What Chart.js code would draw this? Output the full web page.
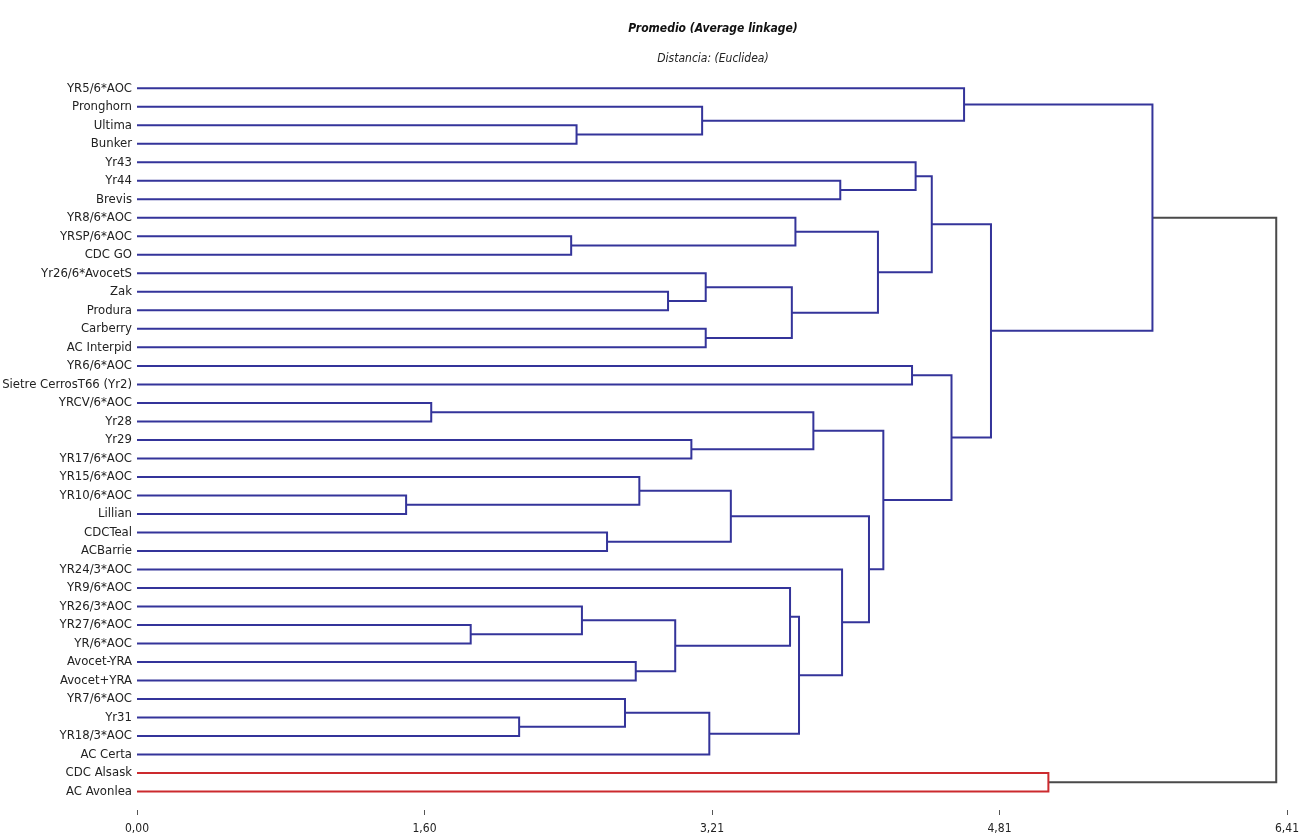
<!DOCTYPE html>
<html>
<head>
<meta charset="utf-8">
<script src="https://cdn.jsdelivr.net/npm/chart.js@4/dist/chart.umd.min.js"></script>
<style>
  html, body { margin: 0; padding: 0; background: #ffffff; }
  #wrap { width: 1299px; height: 837px; }
</style>
</head>
<body>
<div id="wrap"><canvas id="c" width="1299" height="837"></canvas></div>
<script>
// ---- Data ----
const chartTitle = 'Promedio (Average linkage)';
const chartSubtitle = 'Distancia: (Euclidea)';

const leaves = [
  'YR5/6*AOC', 'Pronghorn', 'Ultima', 'Bunker', 'Yr43', 'Yr44', 'Brevis',
  'YR8/6*AOC', 'YRSP/6*AOC', 'CDC GO', 'Yr26/6*AvocetS', 'Zak', 'Produra',
  'Carberry', 'AC Interpid', 'YR6/6*AOC', 'Sietre CerrosT66 (Yr2)',
  'YRCV/6*AOC', 'Yr28', 'Yr29', 'YR17/6*AOC', 'YR15/6*AOC', 'YR10/6*AOC',
  'Lillian', 'CDCTeal', 'ACBarrie', 'YR24/3*AOC', 'YR9/6*AOC', 'YR26/3*AOC',
  'YR27/6*AOC', 'YR/6*AOC', 'Avocet-YRA', 'Avocet+YRA', 'YR7/6*AOC', 'Yr31',
  'YR18/3*AOC', 'AC Certa', 'CDC Alsask', 'AC Avonlea'
];

// Merge k creates cluster id leaves.length + k (ids < leaves.length are leaves)
const mergeLeft  = [2, 1, 0, 5, 4, 8, 7, 11, 10, 13, 47, 45, 43, 15, 17, 19, 53, 22, 21, 24, 57, 29, 28, 31, 61, 27, 34, 33, 66, 64, 26, 59, 55, 52, 51, 41, 37, 74];
const mergeRight = [3, 39, 40, 6, 42, 9, 44, 12, 46, 14, 48, 49, 50, 16, 18, 20, 54, 23, 56, 25, 58, 30, 60, 32, 62, 63, 35, 65, 36, 67, 68, 69, 70, 71, 72, 73, 38, 75];
const mergeHeight = [2.45, 3.15, 4.61, 3.92, 4.34, 2.42, 3.67, 2.96, 3.17, 3.17, 3.65, 4.13, 4.43, 4.32, 1.64, 3.09, 3.77, 1.50, 2.80, 2.62, 3.31, 1.86, 2.48, 2.78, 3.00, 3.64, 2.13, 2.72, 3.19, 3.69, 3.93, 4.08, 4.16, 4.54, 4.76, 5.66, 5.08, 6.35];

const xMax = 6.41;
const xTickValues = [0, 1.6025, 3.205, 4.8075, 6.41];
const xTickLabels = ['0,00', '1,60', '3,21', '4,81', '6,41'];

// ---- Build dendrogram segments ----
const n = leaves.length;
const pos = [], hgt = [], members = [];
for (let i = 0; i < n; i++) { pos[i] = i; hgt[i] = 0; members[i] = [i]; }
const BLUE = '#34349a', RED = '#cc2a2e', GRAY = '#4a4a4a';
const datasets = [];
for (let k = 0; k < mergeHeight.length; k++) {
  const l = mergeLeft[k], r = mergeRight[k], h = mergeHeight[k], id = n + k;
  pos[id] = (pos[l] + pos[r]) / 2;
  hgt[id] = h;
  members[id] = members[l].concat(members[r]);
  let color = BLUE;
  if (k === mergeHeight.length - 1) color = GRAY;
  else if (members[id].every(m => m >= 37)) color = RED;
  datasets.push({
    data: [
      { x: hgt[l], y: pos[l] },
      { x: h, y: pos[l] },
      { x: h, y: pos[r] },
      { x: hgt[r], y: pos[r] }
    ],
    borderColor: color,
    borderWidth: 2,
    pointRadius: 0,
    pointHoverRadius: 0,
    tension: 0,
    fill: false,
    clip: false
  });
}

const FONT = "'DejaVu Sans Condensed', 'Liberation Sans', Arial, sans-serif";

const titlePlugin = {
  id: 'titles',
  afterDraw(chart) {
    const ctx = chart.ctx;
    ctx.save();
    ctx.fillStyle = '#111';
    ctx.textAlign = 'center';
    ctx.textBaseline = 'middle';
    ctx.font = "italic bold 12px " + FONT;
    ctx.fillText(chartTitle, 713, 29);
    ctx.font = "italic 12px " + FONT;
    ctx.fillStyle = '#222';
    ctx.fillText(chartSubtitle, 713, 59);
    ctx.restore();
  }
};

new Chart(document.getElementById('c'), {
  type: 'line',
  data: { datasets },
  options: {
    responsive: false,
    devicePixelRatio: 1,
    animation: false,
    layout: { padding: { top: 79.05, right: 12, bottom: 0, left: 0 } },
    plugins: { legend: { display: false }, tooltip: { enabled: false }, title: { display: false } },
    scales: {
      x: {
        type: 'linear', min: 0, max: xMax,
        afterBuildTicks: s => { s.ticks = xTickValues.map(v => ({ value: v })); },
        afterFit: s => { s.height = 27; s.paddingLeft = 0; s.paddingRight = 0; },
        ticks: {
          callback: (v, i) => xTickLabels[i],
          font: { family: FONT, size: 12 }, color: '#222',
          padding: 7, maxRotation: 0, autoSkip: false
        },
        grid: { drawOnChartArea: false, drawTicks: true, tickLength: 5, color: '#555', lineWidth: 1 },
        border: { display: false }
      },
      y: {
        type: 'linear', reverse: true, min: -0.5, max: 39,
        afterBuildTicks: s => { s.ticks = leaves.map((_, i) => ({ value: i })); },
        afterFit: s => { s.width = 137; s.paddingTop = 0; s.paddingBottom = 0; },
        ticks: {
          callback: (v, i) => leaves[i],
          font: { family: FONT, size: 13 }, color: '#222',
          padding: 5, autoSkip: false
        },
        grid: { display: false, drawTicks: false },
        border: { display: false }
      }
    }
  },
  plugins: [titlePlugin]
});
</script>
</body>
</html>
